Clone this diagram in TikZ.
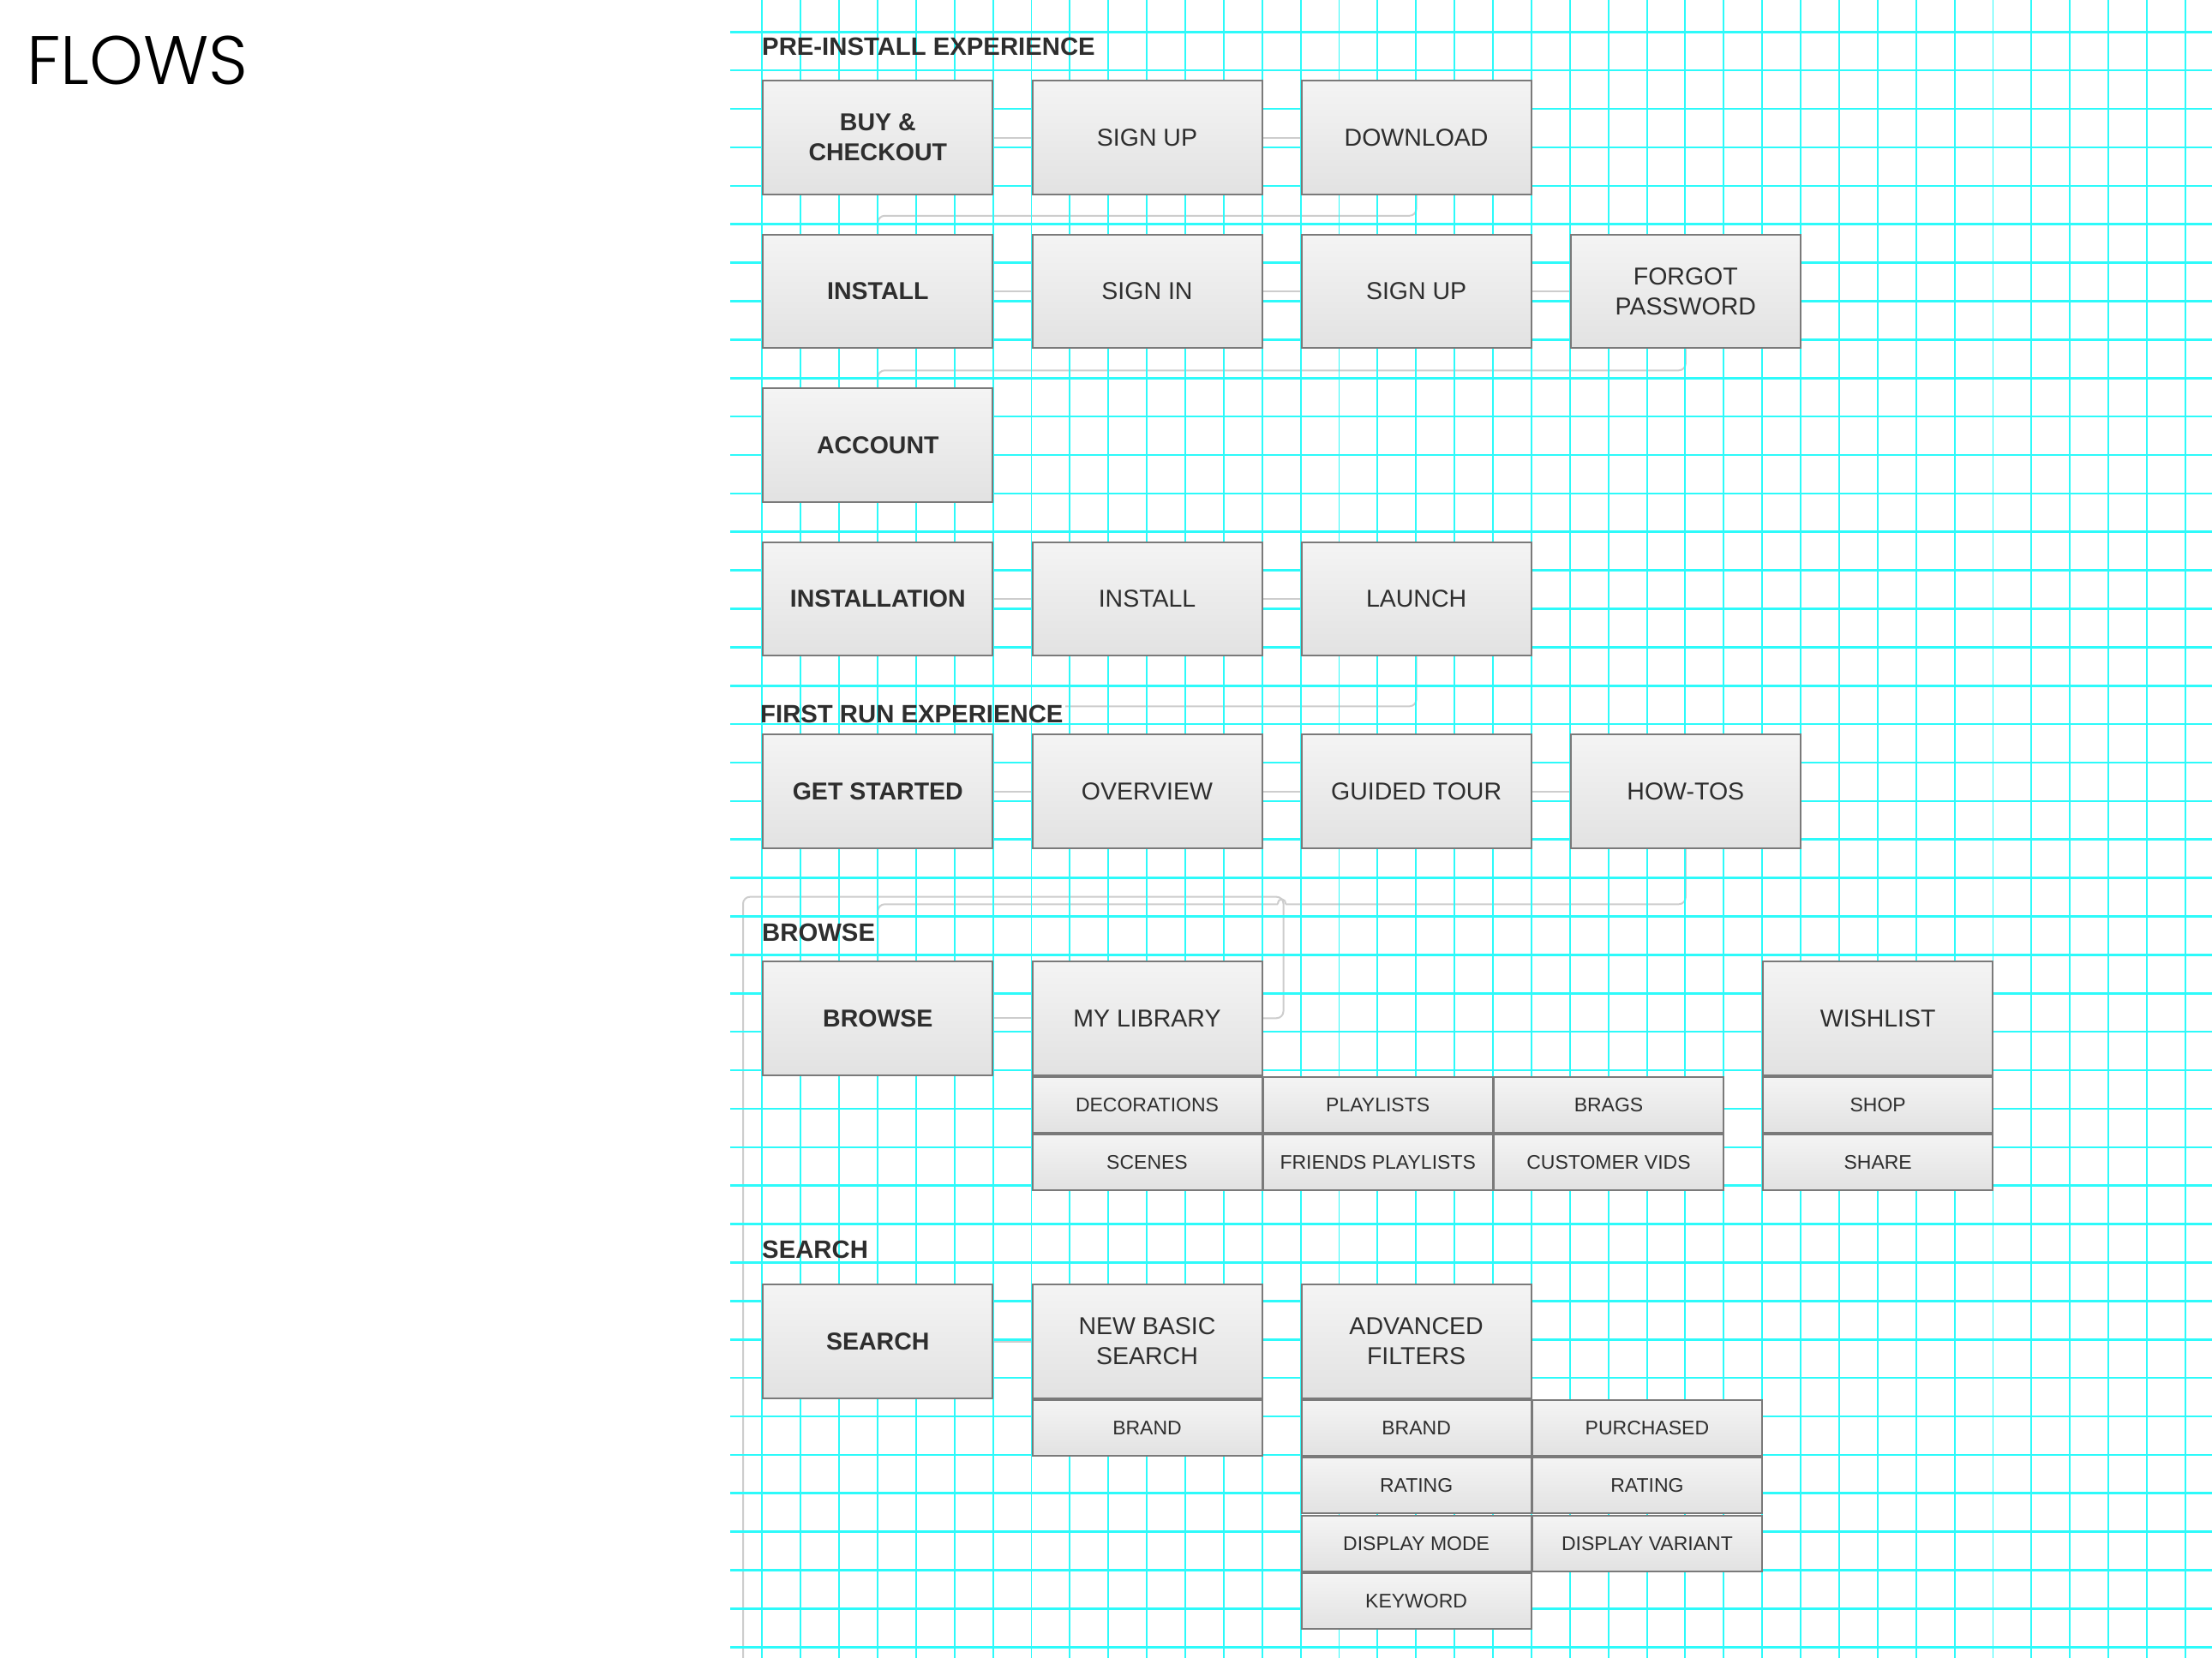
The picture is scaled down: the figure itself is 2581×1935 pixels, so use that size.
\documentclass[tikz,border=0pt]{standalone}
\usepackage{fontspec}
\setmainfont{Liberation Sans}
\IfFontExistsTF{Poppins Light}{\newfontfamily\titlefont{Poppins Light}}{\newfontfamily\titlefont{Poppins}}
\usetikzlibrary{calc}

\pgfdeclarelayer{backdrop}
\pgfdeclarelayer{links}
\pgfdeclarelayer{labelbg}
\pgfdeclarelayer{paper}
\pgfsetlayers{backdrop,links,labelbg,paper,main}

\definecolor{gridcyan}{RGB}{45,250,250}
\definecolor{linkgray}{RGB}{205,205,205}
\definecolor{boxedge}{RGB}{122,122,122}
\definecolor{boxtop}{RGB}{244,244,244}
\definecolor{boxbot}{RGB}{226,226,226}
\definecolor{ink}{RGB}{46,46,46}

\tikzset{
  card/.style={rectangle, draw=boxedge, line width=2pt, top color=boxtop,
    bottom color=boxbot, inner sep=0pt, anchor=north west, align=center,
    text=ink, minimum width=268pt},
  bigcard/.style={card, minimum height=132.5pt, font=\fontsize{28.5}{35}\selectfont},
  leadcard/.style={card, minimum height=132.5pt, font=\fontsize{28.5}{35}\selectfont\bfseries},
  subcard/.style={card, minimum height=65pt, font=\fontsize{23}{27}\selectfont},
  heading/.style={anchor=base west, inner sep=0pt, text=ink,
    font=\fontsize{29.3}{34}\selectfont\bfseries},
  link/.style={draw=linkgray, line width=2pt, rounded corners=8pt},
  vline/.style={draw=gridcyan, line width=1.9pt},
  hline/.style={draw=gridcyan, line width=2.6pt},
}

\begin{document}
\begin{tikzpicture}[x=1pt, y=-1pt]
\useasboundingbox (0,0) rectangle (2581,1935);
\begin{pgfonlayer}{backdrop}
  \fill[white] (0,0) rectangle (2581,1935);
\end{pgfonlayer}

% title
\node[anchor=base west, inner sep=0pt, font=\titlefont\fontsize{80}{90}\selectfont] (title) at (31,99) {FLOWS};

% section headings
\node[heading] (hpre) at (889,64) {PRE-INSTALL EXPERIENCE};
\node[heading] (hfirst) at (887,843.3) {FIRST RUN EXPERIENCE};
\node[heading] (hbrowse) at (889,1098.3) {BROWSE};
\node[heading] (hsearch) at (889,1468) {SEARCH};

% pre-install experience
\node[leadcard] (buy) at (889.3,93.3) {BUY \&\\CHECKOUT};
\node[bigcard] (signupA) at (1203.5,93.3) {SIGN UP};
\node[bigcard] (download) at (1517.6,93.3) {DOWNLOAD};
\node[leadcard] (installA) at (889.3,272.8) {INSTALL};
\node[bigcard] (signin) at (1203.5,272.8) {SIGN IN};
\node[bigcard] (signupB) at (1517.6,272.8) {SIGN UP};
\node[bigcard] (forgot) at (1831.8,272.8) {FORGOT\\PASSWORD};
\node[leadcard] (account) at (889.3,452.3) {ACCOUNT};
\node[leadcard] (installation) at (889.3,631.8) {INSTALLATION};
\node[bigcard] (installB) at (1203.5,631.8) {INSTALL};
\node[bigcard] (launch) at (1517.6,631.8) {LAUNCH};

% first run experience
\node[leadcard] (getstarted) at (889.3,856.3) {GET STARTED};
\node[bigcard] (overview) at (1203.5,856.3) {OVERVIEW};
\node[bigcard] (guided) at (1517.6,856.3) {GUIDED TOUR};
\node[bigcard] (howtos) at (1831.8,856.3) {HOW-TOS};

% browse
\node[leadcard] (browse) at (889.3,1121) {BROWSE};
\node[bigcard] (mylib) at (1203.5,1121) {MY LIBRARY};
\node[bigcard] (wishlist) at (2056.2,1121) {WISHLIST};
\node[subcard] (decorations) at (1203.5,1256) {DECORATIONS};
\node[subcard] (playlists) at (1472.7,1256) {PLAYLISTS};
\node[subcard] (brags) at (1742,1256) {BRAGS};
\node[subcard] (shop) at (2056.2,1256) {SHOP};
\node[subcard] (scenes) at (1203.5,1323.3) {SCENES};
\node[subcard] (friends) at (1472.7,1323.3) {FRIENDS PLAYLISTS};
\node[subcard] (customer) at (1742,1323.3) {CUSTOMER VIDS};
\node[subcard] (share) at (2056.2,1323.3) {SHARE};

% search
\node[leadcard] (search) at (889.3,1498.3) {SEARCH};
\node[bigcard] (basic) at (1203.5,1498.3) {NEW BASIC\\SEARCH};
\node[bigcard] (advanced) at (1517.6,1498.3) {ADVANCED\\FILTERS};
\node[subcard] (brandA) at (1203.5,1633) {BRAND};
\node[subcard] (brandB) at (1517.6,1633) {BRAND};
\node[subcard] (purchased) at (1786.9,1633) {PURCHASED};
\node[subcard] (ratingA) at (1517.6,1700.4) {RATING};
\node[subcard] (ratingB) at (1786.9,1700.4) {RATING};
\node[subcard] (dispmode) at (1517.6,1767.8) {DISPLAY MODE};
\node[subcard] (dispvariant) at (1786.9,1767.8) {DISPLAY VARIANT};
\node[subcard] (keyword) at (1517.6,1835.2) {KEYWORD};

% waypoints
\coordinate (hop) at (1500,1055.3);
\coordinate (loopcorner) at (867,1046.7);
\coordinate (offpage) at (867,1935);

% connectors
\begin{pgfonlayer}{links}
  \draw[link] (buy) -- (signupA);
  \draw[link] (signupA) -- (download);
  \draw[link] (download.south) -- ++(0,24) -| (installA.north);
  \draw[link] (installA) -- (signin);
  \draw[link] (signin) -- (signupB);
  \draw[link] (signupB) -- (forgot);
  \draw[link] (forgot.south) -- ++(0,25) -| (account.north);
  \draw[link] (installation) -- (installB);
  \draw[link] (installB) -- (launch);
  \draw[link] (launch.south) -- ++(0,58) -| (getstarted.north);
  \draw[link] (getstarted) -- (overview);
  \draw[link] (overview) -- (guided);
  \draw[link] (guided) -- (howtos);
  \draw[link] (howtos.south) |- (hop);
  \draw[draw=linkgray, line width=2pt] (hop) .. controls +(0,-8) and +(0,-8) .. ++(-9,0) coordinate (hopL);
  \draw[link] (hopL) -| (browse.north);
  \draw[link] (browse) -- (mylib);
  \draw[link] (mylib.east) -- ++(24,0) |- (loopcorner) -- (offpage);
  \draw[link] (search) -- (basic);
\end{pgfonlayer}

% keep the connector out of the heading text
\begin{pgfonlayer}{labelbg}
  \fill[white] ($(hfirst.north west)+(-2,-4)$) rectangle ($(hfirst.south east)+(2,2)$);
\end{pgfonlayer}

% grid paper
\begin{pgfonlayer}{paper}
  \foreach \k in {0,...,37} {
    \draw[vline] ({889.3+44.88*\k},0) -- ({889.3+44.88*\k},1935);
  }
  \foreach \k in {0,...,42} {
    \draw[hline] (852,{37.3+44.88*\k}) -- (2581,{37.3+44.88*\k});
  }
\end{pgfonlayer}
\end{tikzpicture}
\end{document}
